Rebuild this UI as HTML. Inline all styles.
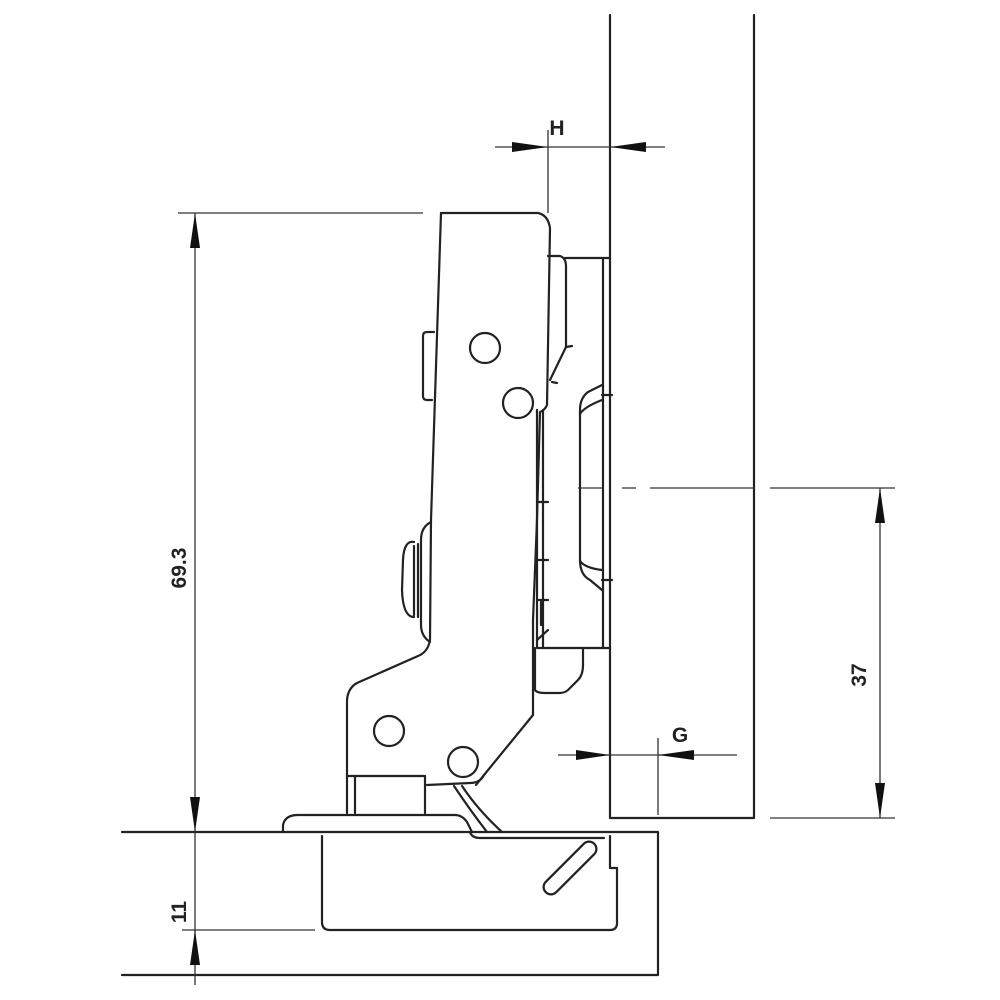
<!DOCTYPE html>
<html><head><meta charset="utf-8"><style>
html,body{margin:0;padding:0;background:#fff;}
svg{display:block;}
text{font-family:"Liberation Sans",sans-serif;font-weight:bold;fill:#222;}
</style></head><body>
<svg width="1000" height="1000" viewBox="0 0 1000 1000" xmlns="http://www.w3.org/2000/svg">
<g fill="none" stroke="#222" stroke-width="2.2" stroke-linejoin="round" stroke-linecap="round">
<!-- door -->
<path d="M610 15 V818 H754 V15"/>
<!-- cabinet side -->
<path d="M122 832 H658 V975 H122"/>
<!-- cup -->
<path d="M322 836 V922 Q322 930 330 930 H610 Q617 930 617 923 V868 H610 V836"/>
<path d="M470 832 Q472 838 480 838 H604"/>
<!-- slot -->
<path d="M551 887 L589 849" stroke-width="17" stroke="#222"/>
<path d="M551 887 L589 849" stroke-width="12.5" stroke="#fff"/>
<!-- flange -->
<path d="M283 832 V825 Q285 815 298 815 H455 Q462 815 467 822 L472 832"/>
<!-- arm -->
<path d="M441 213 H538 Q548 215 550 228 L547 405 Q545 410 540 412 L537 520 L533 620 V715 L484 775 Q480 783 470 783 L427 785"/>
<path d="M441 213 L431 520 L430 640 Q428 652 418 656 L357 683 Q348 688 347 700 V813"/>
<path d="M347 776 H425 V813 M355 776 V813"/>
<path d="M484 775 L476 785"/>
<!-- spring -->
<path d="M454 786 Q470 810 487 832 M462 786 Q478 810 502 832"/>
<!-- holes -->
<circle cx="485" cy="348" r="15"/>
<circle cx="518" cy="403" r="15"/>
<circle cx="389" cy="731" r="15"/>
<circle cx="463" cy="762" r="15"/>
<!-- tab -->
<path d="M434 332 H427 Q423 332 423 336 V396 Q423 400 427 400 H432"/>
<!-- knob -->
<path d="M431 522 Q421 527 421 540 V625 Q421 636 430 642"/>
<path d="M418 544 V617 M414 546 V615"/>
<path d="M414 542 Q404 540 403 560 L402 590 Q403 617 414 617"/>
<!-- mounting plate -->
<path d="M548 256 H560 Q566 258 566 266 V347 L550 380"/>
<path d="M566 347 L572 346 M552 382 L557 383"/>
<path d="M565 258 H610 M603 258 V648 M537 410 V648 H610 M543 410 V648"/>
<path d="M537 502 H548 M537 560 H548 M537 600 H548 M541 602 V625 M537 640 L548 630"/>
<path d="M602 385 L588 392 Q580 398 580 410 V560 Q580 575 590 580 L602 590"/>
<path d="M580 414 Q584 407 602 400 M580 561 Q585 568 602 570 M602 395 H612 M602 580 H612"/>
<path d="M535 648 V690 Q537 693 545 693 H560 Q566 693 570 688 L578 680 Q583 675 583 665 V648"/>
</g>
<!-- dimension lines -->
<g fill="none" stroke="#333" stroke-width="1.3">
<path d="M178 213 H423 M195 213 V985"/>
<path d="M182 930 H315"/>
<path d="M495 147 H665 M548 130 V213"/>
<path d="M558 755 H737 M658 738 V815"/>
<path d="M770 488 H895 M770 818 H895 M880 488 V818"/>
<path d="M578 488 H602 M622 488 H636 M650 488 H754" />
</g>
<g fill="#111" stroke="none">
<polygon points="195,213 190,248 200,248"/>
<polygon points="195,832 190,797 200,797"/>
<polygon points="195,930 190,965 200,965"/>
<polygon points="548,147 512,142 512,152"/>
<polygon points="610,147 646,142 646,152"/>
<polygon points="610,755 576,750 576,760"/>
<polygon points="658,755 694,750 694,760"/>
<polygon points="880,488 875,523 885,523"/>
<polygon points="880,818 875,783 885,783"/>
</g>
<text x="557" y="135" font-size="21" text-anchor="middle">H</text>
<text x="680" y="742" font-size="21" text-anchor="middle">G</text>
<text transform="translate(186,568) rotate(-90)" font-size="21" text-anchor="middle">69.3</text>
<text transform="translate(186,912) rotate(-90)" font-size="21" text-anchor="middle">11</text>
<text transform="translate(866,675) rotate(-90)" font-size="21" text-anchor="middle">37</text>
</svg>
</body></html>
